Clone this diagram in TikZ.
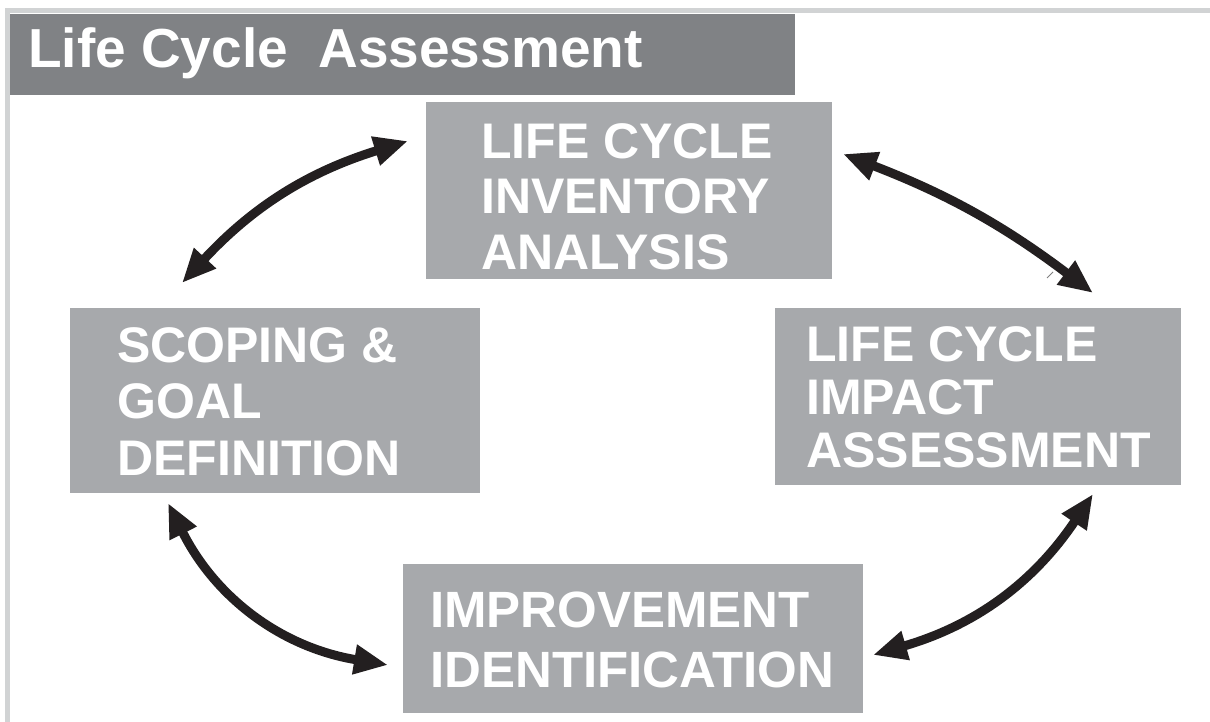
\documentclass[tikz,border=0pt]{standalone}
\usepackage{fontspec}
\setmainfont{Liberation Sans}
\usetikzlibrary{arrows.meta}
\definecolor{titlegray}{RGB}{128,130,133}
\definecolor{boxgray}{RGB}{167,169,172}
\definecolor{rulegray}{RGB}{209,211,212}
\definecolor{arrowink}{RGB}{35,31,32}
\tikzset{
  stagebox/.style={fill=boxgray, draw=none, inner sep=0pt},
  stagetext/.style={text=white, align=left, inner sep=0pt, anchor=north west},
  cyclearrow/.style={draw=arrowink, line width=9pt,
    {Triangle[length=34pt,width=28pt]}-{Triangle[length=34pt,width=28pt]}},
}
\begin{document}
\begin{tikzpicture}[x=1pt,y=-1pt]
\useasboundingbox[fill=white] (0,0) rectangle (1210,722);

% frame rules along the top and left
\fill[rulegray] (5,8) rectangle (1210,13);
\fill[rulegray] (5,8) rectangle (10,722);

% title bar
\node[fill=titlegray, minimum width=785pt, minimum height=81pt, inner sep=0pt, anchor=north west]
  (titlebar) at (10,13.5) {};
\node[text=white, anchor=base west, inner sep=0pt, font=\bfseries\fontsize{55}{60}\selectfont]
  (title) at (28,68) {Life Cycle\ \ Assessment};

% stage boxes
\node[stagebox, minimum width=406pt, minimum height=177pt, anchor=north west] (lci) at (426,102) {};
\node[stagebox, minimum width=410pt, minimum height=185pt, anchor=north west] (goal) at (70,307.5) {};
\node[stagebox, minimum width=406pt, minimum height=177pt, anchor=north west] (lcia) at (775,308) {};
\node[stagebox, minimum width=460pt, minimum height=149pt, anchor=north west] (impr) at (403,564) {};

% stage labels
\node[stagetext, font=\bfseries\fontsize{50}{55.5}\selectfont] (lcitxt) at (481,123)
  {LIFE CYCLE\\INVENTORY\\ANALYSIS};
\node[stagetext, font=\bfseries\fontsize{50}{56.5}\selectfont] (goaltxt) at (117,327)
  {SCOPING \&\\GOAL\\DEFINITION};
\node[stagetext, font=\bfseries\fontsize{50}{53}\selectfont] (lciatxt) at (806,326)
  {LIFE CYCLE\\IMPACT\\ASSESSMENT};
\node[stagetext, font=\bfseries\fontsize{51}{60}\selectfont] (imprtxt) at (430,592)
  {IMPROVEMENT\\IDENTIFICATION};

% arrow end points
\coordinate (a1s) at (182,283);
\coordinate (a1e) at (408,141);
\coordinate (a2s) at (843,154);
\coordinate (a2e) at (1093,293);
\coordinate (a3s) at (168,503);
\coordinate (a3e) at (388,665);
\coordinate (a4s) at (1093,494);
\coordinate (a4e) at (873,655);

% two-way arrows between the stages
\draw[cyclearrow] (a1s) to[bend left=15] (a1e);
\draw[cyclearrow] (a2s) to[bend left=8] (a2e);
\draw[cyclearrow] (a3s) to[bend right=27] (a3e);
\draw[cyclearrow] (a4s) to[bend left=20] (a4e);

% small stroke beside the right-hand arrow
\coordinate (m1) at (1047,278);
\coordinate (m2) at (1053,272);
\draw[gray, line width=0.8pt] (m1) -- (m2);
\end{tikzpicture}
\end{document}
